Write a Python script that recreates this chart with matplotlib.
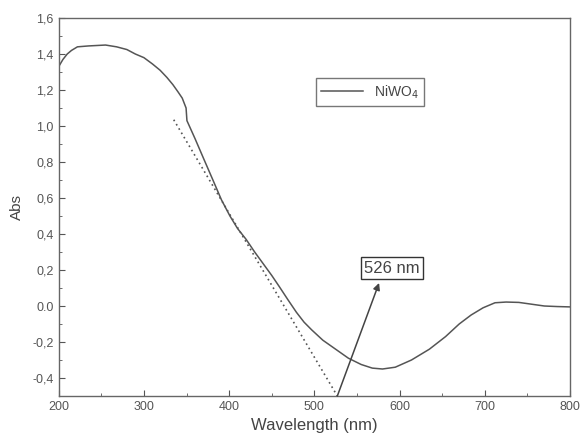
import matplotlib.pyplot as plt
from matplotlib.ticker import MultipleLocator, FixedLocator

plt.rcParams['font.family'] = ['Liberation Sans', 'DejaVu Sans']

# UV-vis absorption spectrum of NiWO4
wavelength = [200, 205, 210, 215, 222, 235, 255, 268, 280, 290, 300, 310, 319,
              327, 334, 340, 345, 349.5, 350.5, 360, 370, 381, 391, 401, 410,
              420, 430, 440, 450, 459, 469, 479, 488, 497, 510, 525, 540, 555,
              568, 580, 595, 614, 635, 654, 670, 684, 698, 712, 725, 740, 755,
              770, 785, 800]
absorb = [1.33, 1.37, 1.40, 1.42, 1.44, 1.445, 1.45, 1.44, 1.425, 1.40, 1.38,
          1.345, 1.31, 1.27, 1.23, 1.19, 1.155, 1.10, 1.03, 0.93, 0.82, 0.70,
          0.59, 0.50, 0.43, 0.37, 0.30, 0.235, 0.17, 0.107, 0.035, -0.035,
          -0.09, -0.133, -0.19, -0.24, -0.29, -0.325, -0.345, -0.35, -0.34,
          -0.30, -0.24, -0.17, -0.10, -0.05, -0.01, 0.018, 0.022, 0.02, 0.01,
          0.0, -0.003, -0.005]

# tangent line for the band edge
tangent_x = [335, 527]
tangent_y = [1.035, -0.5]
edge_nm = 526
box_xy = (591, 0.21)
arrow_tip = (576, 0.128)

yticks = [-0.4, -0.2, 0.0, 0.2, 0.4, 0.6, 0.8, 1.0, 1.2, 1.4, 1.6]
ylabels = ['-0,4', '-0,2', '0.0', '0,2', '0,4', '0,6', '0,8', '1,0', '1,2', '1,4', '1,6']

grey = '#555555'

fig = plt.figure(figsize=(5.81, 4.40), dpi=100)
ax = fig.add_axes([0.101, 0.1, 0.880, 0.859])

ax.plot(wavelength, absorb, color=grey, lw=1.1, label='NiWO$_4$')
ax.plot(tangent_x, tangent_y, color=grey, lw=1.2, ls=(0, (1, 2)))

# label box and arrow pointing up from the intercept
ax.text(box_xy[0], box_xy[1], '%d nm' % edge_nm, ha='center', va='center',
        fontsize=12, color='#444444',
        bbox=dict(boxstyle='square,pad=0.2', fc='white', ec='#333333', lw=1))
ax.annotate('', xy=arrow_tip, xytext=(tangent_x[1], tangent_y[1]),
            arrowprops=dict(arrowstyle='-|>', color='#444444', lw=1.1,
                            shrinkA=0, shrinkB=0, mutation_scale=10))

ax.set_xlim(200, 800)
ax.set_ylim(-0.5, 1.6)
ax.xaxis.set_major_locator(MultipleLocator(100))
ax.xaxis.set_minor_locator(MultipleLocator(50))
ax.yaxis.set_major_locator(FixedLocator(yticks))
ax.set_yticklabels(ylabels)
ax.yaxis.set_minor_locator(MultipleLocator(0.1))
ax.tick_params(which='both', direction='in', colors=grey, labelsize=9,
               top=False, right=False)
ax.tick_params(which='major', length=4)
ax.tick_params(which='minor', length=2.5)
for s in ax.spines.values():
    s.set_color('#666666')
    s.set_linewidth(1)

ax.set_xlabel('Wavelength (nm)', fontsize=12, color='#444444', labelpad=4)
ax.set_ylabel('Abs', fontsize=11, color='#444444', labelpad=6)

leg = ax.legend(loc='upper left', bbox_to_anchor=(0.503, 0.842), borderaxespad=0,
                fancybox=False, edgecolor='#555555', fontsize=10, handlelength=3,
                labelcolor='#444444')
leg.get_frame().set_linewidth(1)

fig.savefig('out.png', dpi=100)
